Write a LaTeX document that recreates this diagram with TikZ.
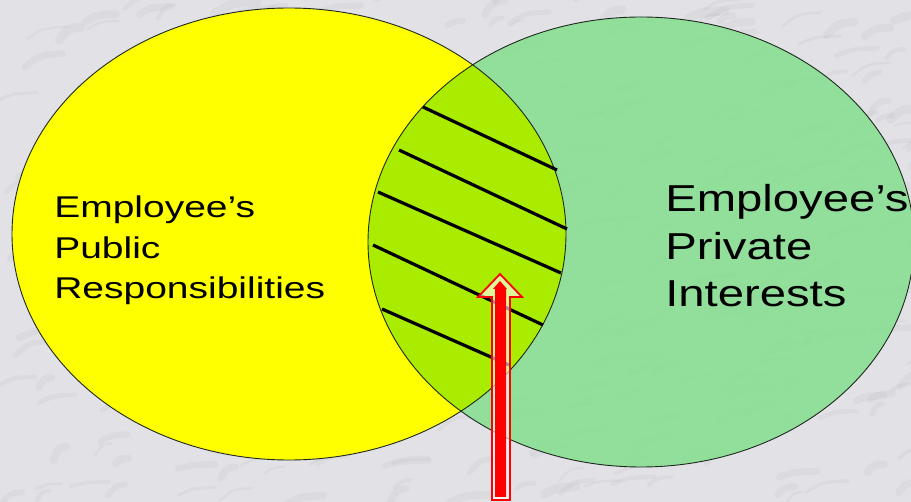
\documentclass[tikz,border=0pt]{standalone}
\usepackage{fontspec}
\setmainfont{Liberation Sans}
\definecolor{marble}{RGB}{226,226,230}
\definecolor{vein}{RGB}{150,150,158}
\definecolor{venyellow}{RGB}{255,255,0}
\definecolor{vengreen}{RGB}{127,223,137}
\definecolor{venlime}{RGB}{170,236,0}
\definecolor{arrred}{RGB}{255,0,0}
\definecolor{edge}{RGB}{30,40,30}
\begin{document}
\begin{tikzpicture}[x=1pt,y=-1pt,
  outline/.style={draw=edge,line width=0.9pt},
  hatch/.style={draw=black,line width=3.2pt},
  veinline/.style={draw=vein,line cap=round,opacity=0.09},
  lblsmall/.style={inner sep=0pt,anchor=base west,align=left,xscale=1.3,
     font=\fontsize{30}{40.5}\selectfont},
  lblbig/.style={inner sep=0pt,anchor=base west,align=left,xscale=1.26,
     font=\fontsize{37.5}{47.5}\selectfont}]
\useasboundingbox (0,0) rectangle (911,502);
\fill[marble] (0,0) rectangle (911,502);
% marble texture
\pgfmathsetseed{42}
\foreach \i in {1,...,420}{
  \pgfmathsetmacro{\px}{rnd*930-10}
  \pgfmathsetmacro{\py}{rnd*520-10}
  \pgfmathsetmacro{\dx}{10+rnd*35}
  \pgfmathsetmacro{\dy}{-14+rnd*10}
  \pgfmathsetmacro{\lw}{2+rnd*7}
  \draw[veinline,line width=\lw pt] (\px,\py) .. controls ++(\dx*0.4,\dy*0.9) .. ++(\dx,\dy);
}
% ellipses
\fill[venyellow] (289,234) ellipse [x radius=277,y radius=226];
\fill[vengreen,fill opacity=0.8] (641,242) ellipse [x radius=273,y radius=225];
\begin{scope}
  \clip (289,234) ellipse [x radius=277,y radius=226];
  \fill[venlime] (641,242) ellipse [x radius=273,y radius=225];
\end{scope}
\draw[outline] (289,234) ellipse [x radius=277,y radius=226];
\draw[outline] (641,242) ellipse [x radius=273,y radius=225];
% hatch lines
\coordinate (h1a) at (423,107); \coordinate (h1b) at (557,170);
\coordinate (h2a) at (399,150); \coordinate (h2b) at (567,229);
\coordinate (h3a) at (378,192); \coordinate (h3b) at (561,273);
\coordinate (h4a) at (373,245); \coordinate (h4b) at (543,325);
\coordinate (h5a) at (382,309); \coordinate (h5b) at (509,365);
\draw[hatch] (h1a) -- (h1b);
\draw[hatch] (h2a) -- (h2b);
\draw[hatch] (h3a) -- (h3b);
\draw[hatch] (h4a) -- (h4b);
\draw[hatch] (h5a) -- (h5b);
% labels
\node[lblsmall] (pub) at (54,299) {Employee’s\\Public\\Responsibilities};
\node[lblbig] (priv) at (665,307) {Employee’s\\Private\\Interests};
% arrow
\filldraw[draw=arrred,line width=1.8pt,fill=white,fill opacity=0.6,line join=miter]
  (500,274) -- (522,297) -- (510,297) -- (510,500) -- (492,500) -- (492,297) -- (478,297) -- cycle;
\fill[arrred] (500,281) -- (507,289) -- (506,289) -- (506,497) -- (495,497) -- (495,289) -- (493,289) -- cycle;
\end{tikzpicture}
\end{document}
